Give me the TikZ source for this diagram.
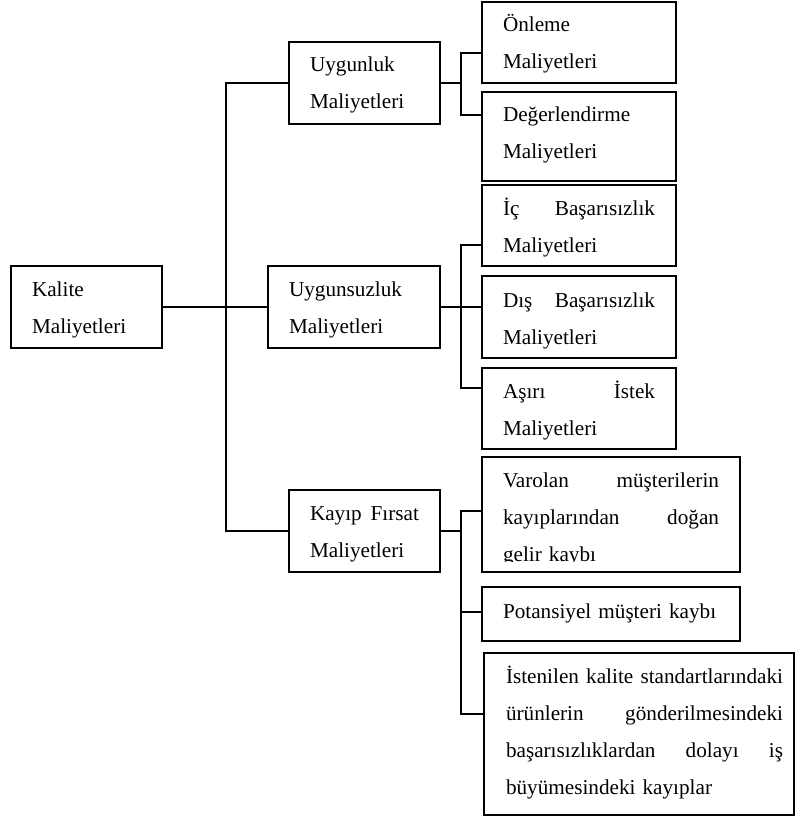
\documentclass[tikz,border=0pt]{standalone}
\usepackage{fontspec}
\setmainfont{Liberation Serif}
\usetikzlibrary{fit}

\tikzset{
  cbox/.style={draw=black, line width=1.5pt, inner sep=0pt, outer sep=0pt, rectangle},
  txt/.style={anchor=north west, inner sep=0pt, outer sep=0pt,
              font=\fontsize{21.2}{37}\selectfont},
  link/.style={draw=black, line width=1.5pt},
}
% opening strut: every first baseline sits 20pt below the node's top
\newcommand\firstline{\rule{0pt}{20pt}}

\begin{document}
\begin{tikzpicture}[x=1pt, y=-1pt]
\useasboundingbox (0,0) rectangle (795,818);
\fill[white] (0,0) rectangle (795,818);

% ---- boxes ----
\node[cbox, fit={(11,266) (162,348)}]  (kalite) {};
\node[cbox, fit={(289,42) (440,124)}]  (uygunluk) {};
\node[cbox, fit={(268,266) (440,348)}] (uygunsuzluk) {};
\node[cbox, fit={(289,490) (440,572)}] (kayip) {};

\node[cbox, fit={(482,2) (676,83)}]    (onleme) {};
\node[cbox, fit={(482,92) (676,181)}]  (degerlendirme) {};
\node[cbox, fit={(482,185) (676,266)}] (ic) {};
\node[cbox, fit={(482,276) (676,358)}] (dis) {};
\node[cbox, fit={(482,368) (676,449)}] (asiri) {};
\node[cbox, fit={(482,457) (740,572)}] (varolan) {};
\node[cbox, fit={(482,587) (740,641)}] (potansiyel) {};
\node[cbox, fit={(484,653) (794,815)}] (istenilen) {};

% ---- texts ----
\node[txt, text width=150pt] (kalite-t) at (32,276) {\firstline Kalite\\Maliyetleri};
\node[txt, text width=150pt] (uygunluk-t) at (310,52) {\firstline Uygunluk\\Maliyetleri};
\node[txt, text width=150pt] (uygunsuzluk-t) at (289,276) {\firstline Uygunsuzluk\\Maliyetleri};
\node[txt, text width=109pt] (kayip-t) at (310,500) {\firstline Kayıp\hfill Fırsat\\Maliyetleri};

\node[txt, text width=160pt] (onleme-t) at (503,12) {\firstline Önleme\\Maliyetleri};
\node[txt, text width=160pt] (degerlendirme-t) at (503,102) {\firstline Değerlendirme\\Maliyetleri};
\node[txt, text width=152pt] (ic-t) at (503,195) {\firstline İç\hfill Başarısızlık\\Maliyetleri};
\node[txt, text width=152pt] (dis-t) at (503,287) {\firstline Dış\hfill Başarısızlık\\Maliyetleri};
\node[txt, text width=152pt] (asiri-t) at (503,378) {\firstline Aşırı\hfill İstek\\Maliyetleri};
\begin{scope}
  \clip (482,457) rectangle (740,561);
  \node[txt, text width=216pt] (varolan-t) at (503,467)
    {\firstline Varolan\hfill müşterilerin\\kayıplarından\hfill doğan\\gelir kaybı};
\end{scope}
\node[txt, text width=230pt] (potansiyel-t) at (503,598) {\firstline Potansiyel müşteri kaybı};
\node[txt, text width=277pt] (istenilen-t) at (506,663)
  {\firstline İstenilen\hfill kalite\hfill standartlarındaki\\
   ürünlerin\hfill gönderilmesindeki\\
   başarısızlıklardan\hfill dolayı\hfill iş\\
   büyümesindeki kayıplar};

% ---- junction points ----
\coordinate (tr) at (226,307);
\coordinate (a0) at (461,83);
\coordinate (a1) at (461,53);
\coordinate (a2) at (461,115);
\coordinate (b1) at (461,245);
\coordinate (b2) at (461,388);
\coordinate (c0) at (461,531);
\coordinate (c1) at (461,511);
\coordinate (c2) at (461,612);
\coordinate (c3) at (461,714);

% ---- connectors ----
\draw[link] (kalite.east) -- (uygunsuzluk.west);
\draw[link] (uygunluk.west) -| (tr) |- (kayip.west);

\draw[link] (uygunluk.east) -- (a0);
\draw[link] (onleme.west |- a1) -- (a1) -- (a2) -- (degerlendirme.west |- a2);

\draw[link] (uygunsuzluk.east) -- (uygunsuzluk.east -| dis.west);
\draw[link] (ic.west |- b1) -- (b1) -- (b2) -- (asiri.west |- b2);

\draw[link] (kayip.east) -- (c0);
\draw[link] (varolan.west |- c1) -- (c1) -- (c3) -- (istenilen.west |- c3);
\draw[link] (c2) -- (potansiyel.west |- c2);
\end{tikzpicture}
\end{document}
